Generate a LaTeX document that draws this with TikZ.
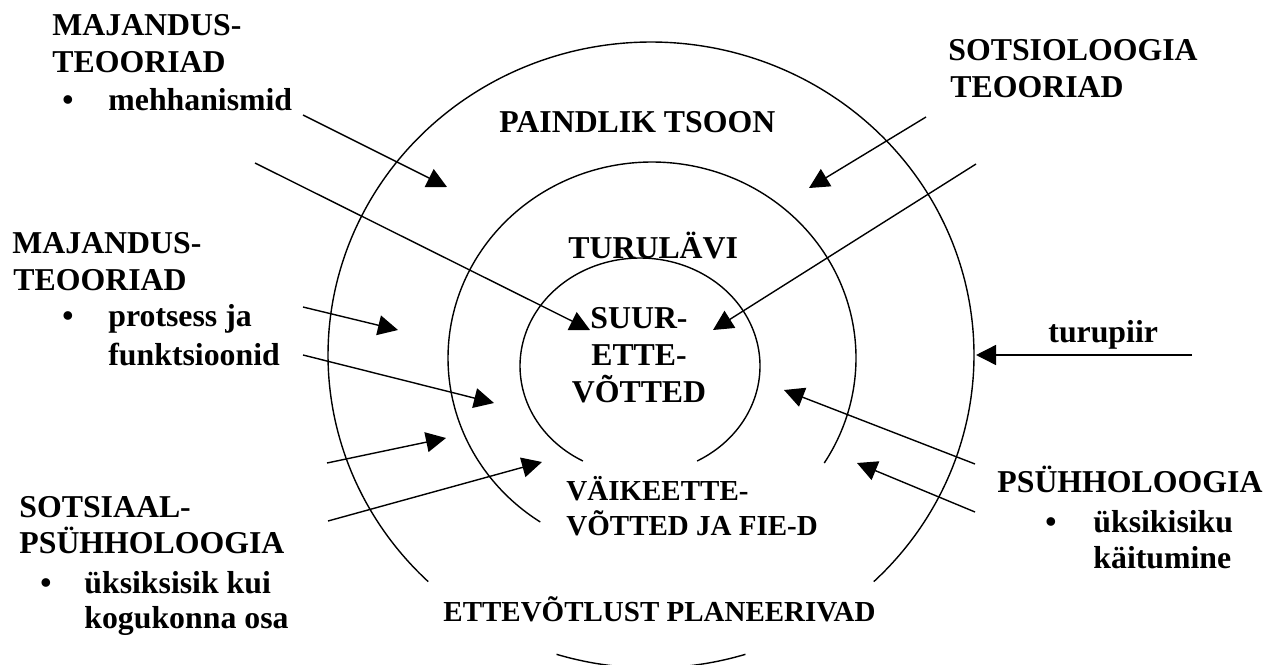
\documentclass[tikz,border=0pt]{standalone}
\usepackage{fontspec}
\setmainfont{Liberation Serif}
\usetikzlibrary{arrows.meta}
\begin{document}
\begin{tikzpicture}[x=0.5pt,y=-0.5pt,
  ring/.style={line width=0.7pt},
  arr/.style={line width=0.7pt,-{Triangle[length=10pt,width=10pt]}},
  lbl/.style={inner sep=0pt,anchor=base west,font=\fontsize{15.9}{18}\selectfont\bfseries},
  lblc/.style={lbl,anchor=base},
  sml/.style={inner sep=0pt,anchor=base west,font=\fontsize{14.5}{17}\selectfont\bfseries}]
\fill[white] (0,0) rectangle (1277,664);
\useasboundingbox (0,0) rectangle (1277,664);

% rings
\draw[ring] plot[domain=-226.4:46.4,samples=240,smooth,variable=\t] ({651+323*cos(\t)},{355+313*sin(\t)});
\draw[ring] plot[domain=73:107,samples=40,smooth,variable=\t] ({651+323*cos(\t)},{355+313*sin(\t)});
\draw[ring] plot[domain=-236.8:32.4,samples=200,smooth,variable=\t] ({652+204*cos(\t)},{358+196*sin(\t)});
\draw[ring] plot[domain=-241.6:61.6,samples=160,smooth,variable=\t] ({640+120*cos(\t)},{366+108*sin(\t)});

% left texts
\node[lbl] (mj1a) at (52,35) {MAJANDUS-};
\node[lbl] (mj1b) at (52,72) {TEOORIAD};
\node[lbl] (bu1) at (62,110) {\textbullet};
\node[lbl] (mj1c) at (108,110) {mehhanismid};

\node[lbl] (mj2a) at (12,253) {MAJANDUS-};
\node[lbl] (mj2b) at (13,290) {TEOORIAD};
\node[lbl] (bu2) at (62,326) {\textbullet};
\node[lbl] (mj2c) at (108,326) {protsess ja};
\node[lbl] (mj2d) at (108,365) {funktsioonid};

\node[lbl] (sp1) at (19,517) {SOTSIAAL-};
\node[lbl] (sp2) at (19,553) {PSÜHHOLOOGIA};
\node[lbl] (bu3) at (40,593) {\textbullet};
\node[lbl] (sp3) at (84,593) {üksiksisik kui};
\node[lbl] (sp4) at (84,628) {kogukonna osa};

% right texts
\node[lbl] (so1) at (948,60) {SOTSIOLOOGIA};
\node[lbl] (so2) at (950,97) {TEOORIAD};
\node[lbl] (tp) at (1048,342) {turupiir};
\node[lbl] (ps1) at (997,492) {PSÜHHOLOOGIA};
\node[lbl] (bu4) at (1045,532) {\textbullet};
\node[lbl] (ps2) at (1093,532) {üksikisiku};
\node[lbl] (ps3) at (1093,568) {käitumine};

% centre texts
\node[lbl] (pz) at (499,132) {PAINDLIK TSOON};
\node[lbl] (tl) at (568,258) {TURULÄVI};
\node[lblc] (su1) at (639,328) {SUUR-};
\node[lblc] (su2) at (639,365) {ETTE-};
\node[lblc] (su3) at (639,402) {VÕTTED};
\node[sml] (ve1) at (566,500) {VÄIKEETTE-};
\node[sml] (ve2) at (566,535) {VÕTTED JA FIE-D};
\node[sml] (ep) at (443,621) {ETTEVÕTLUST PLANEERIVAD};

% arrow end points
\coordinate (a1s) at (303,115); \coordinate (a1e) at (447,187);
\coordinate (a2s) at (255,163); \coordinate (a2e) at (590,330);
\coordinate (a3s) at (303,307); \coordinate (a3e) at (398,330);
\coordinate (a4s) at (303,355); \coordinate (a4e) at (494,403);
\coordinate (a5s) at (327,463); \coordinate (a5e) at (446,438);
\coordinate (a6s) at (328,521); \coordinate (a6e) at (542,462);
\coordinate (a7s) at (926,117); \coordinate (a7e) at (809,188);
\coordinate (a8s) at (976,164); \coordinate (a8e) at (713,330);
\coordinate (a9s) at (1192,355); \coordinate (a9e) at (976,355);
\coordinate (a10s) at (975,464); \coordinate (a10e) at (784,390);
\coordinate (a11s) at (975,512); \coordinate (a11e) at (857,463);

\draw[arr] (a1s) -- (a1e);
\draw[arr] (a2s) -- (a2e);
\draw[arr] (a3s) -- (a3e);
\draw[arr] (a4s) -- (a4e);
\draw[arr] (a5s) -- (a5e);
\draw[arr] (a6s) -- (a6e);
\draw[arr] (a7s) -- (a7e);
\draw[arr] (a8s) -- (a8e);
\draw[arr] (a9s) -- (a9e);
\draw[arr] (a10s) -- (a10e);
\draw[arr] (a11s) -- (a11e);
\end{tikzpicture}
\end{document}
